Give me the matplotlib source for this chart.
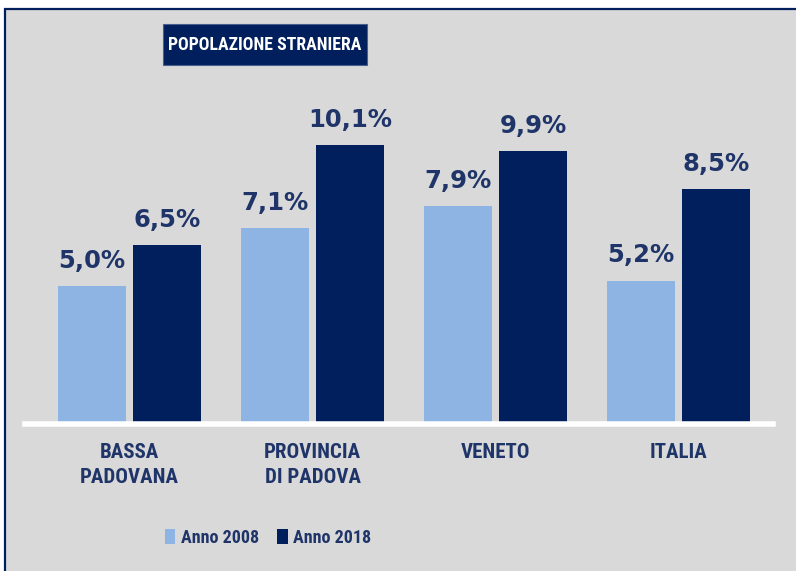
import matplotlib.pyplot as plt
from matplotlib.patches import Rectangle
import numpy as np

categories = ["BASSA\nPADOVANA", "PROVINCIA\nDI PADOVA", "VENETO", "ITALIA"]
anno_2008 = [5.0, 7.1, 7.9, 5.2]
anno_2018 = [6.5, 10.1, 9.9, 8.5]
series_names = ["Anno 2008", "Anno 2018"]

LIGHT = "#8db4e2"
DARK = "#001f5c"
TEXT = "#1f3468"
BG = "#d9d9d9"
NARROW = ["Roboto Condensed", "Roboto", "DejaVu Sans"]

W, H = 796, 571
fig = plt.figure(figsize=(W / 100, H / 100), dpi=100)
fig.patch.set_facecolor("white")

# grey panel with navy frame (runs off the right and bottom edges)
fig.add_artist(Rectangle((5 / W, -0.1), 1.2, 1.1 - 9 / H, transform=fig.transFigure,
                         facecolor=BG, edgecolor=DARK, linewidth=1.6, zorder=0))

ax = fig.add_axes([25 / W, 1 - 424 / H, (773 - 25) / W, (424 - 110) / H])
ax.set_facecolor("none")

x = np.arange(len(categories))
w = 0.372
off = 0.205
b1 = ax.bar(x - off, anno_2008, w, color=LIGHT, label=series_names[0])
b2 = ax.bar(x + off, anno_2018, w, color=DARK, label=series_names[1])

for bars, vals in ((b1, anno_2008), (b2, anno_2018)):
    for b, v in zip(bars, vals):
        ax.annotate(f"{v:.1f}%".replace(".", ","), (b.get_x() + b.get_width() / 2, v),
                    xytext=(0, 13), textcoords="offset points", ha="center", va="baseline",
                    fontsize=17.5, fontweight="bold", color=TEXT)

ax.set_xlim(-0.571, 3.516)
ax.set_ylim(0, 11.38)
ax.axhline(0, color="white", linewidth=4, zorder=3, clip_on=False)
for s in ax.spines.values():
    s.set_visible(False)
ax.set_yticks([])
ax.set_xticks(x)
ax.set_xticklabels(categories, fontsize=15, fontweight="bold", color=TEXT, family=NARROW,
                   linespacing=1.35, va="top")
ax.tick_params(axis="x", length=0, pad=14)

# title box
fig.add_artist(Rectangle((163 / W, 1 - 65 / H), (367 - 163) / W, (65 - 24) / H,
                         transform=fig.transFigure, facecolor=DARK, edgecolor="#4a5f8f",
                         linewidth=0.8, zorder=2))
fig.text(265 / W, 1 - 45 / H, "POPOLAZIONE STRANIERA", ha="center", va="center",
         fontsize=12.8, fontweight="bold", color="white", family=NARROW, zorder=3)

fig.legend(handles=[b1, b2], labels=series_names, loc="center", bbox_to_anchor=(268 / W, 1 - 538 / H),
           ncol=2, frameon=False, handlelength=0.6, handleheight=0.9, handletextpad=0.3,
           columnspacing=1.0, prop={"family": NARROW, "weight": "bold", "size": 13},
           labelcolor=TEXT)

fig.savefig("out.png", dpi=100)
